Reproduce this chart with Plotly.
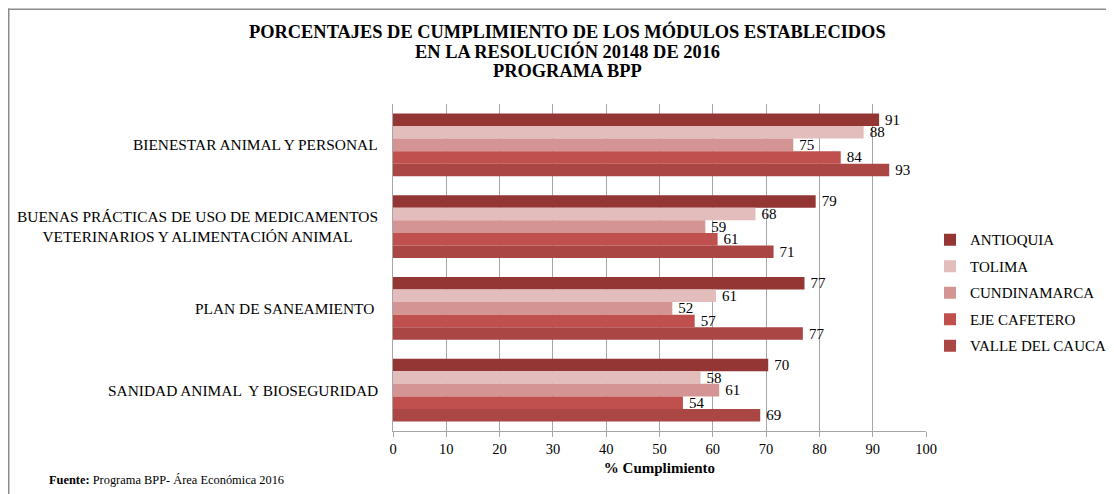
import plotly.graph_objects as go

categories = [
    "BIENESTAR ANIMAL Y PERSONAL",
    "BUENAS PRÁCTICAS DE USO DE MEDICAMENTOS<br>VETERINARIOS Y ALIMENTACIÓN ANIMAL",
    "PLAN DE SANEAMIENTO ",
    "SANIDAD ANIMAL  Y BIOSEGURIDAD",
]
series_names = ["ANTIOQUIA", "TOLIMA", "CUNDINAMARCA", "EJE CAFETERO", "VALLE DEL CAUCA"]
antioquia = [91.2, 79.3, 77.2, 70.4]
tolima = [88.3, 68.0, 60.6, 57.7]
cundinamarca = [75.1, 58.6, 52.4, 61.2]
eje_cafetero = [84.0, 60.9, 56.6, 54.4]
valle_del_cauca = [93.1, 71.4, 76.9, 68.9]
series_values = [antioquia, tolima, cundinamarca, eje_cafetero, valle_del_cauca]
colors = ["#943634", "#E3BCBC", "#D49493", "#C0504D", "#AA4644"]
x_ticks = [0, 10, 20, 30, 40, 50, 60, 70, 80, 90, 100]

FONT = "Liberation Serif, Times New Roman, serif"

# figure geometry (page is offset by 8px body margin)
W, H = 1106, 486
L, T = 385, 95.5
PW, PH = 533, 327.2
B = H - T - PH
R = W - L - PW


def px_x(x):
    return (x - L) / PW


def px_y(y):
    return 1 - (y - T) / PH


fig = go.Figure()
for name, vals, col in zip(series_names, series_values, colors):
    fig.add_trace(go.Bar(
        y=categories, x=vals, name=name, orientation="h",
        marker=dict(color=col, line=dict(width=0)),
        text=[f"\u2009{v:.0f}" for v in vals], textposition="outside",
        textfont=dict(family=FONT, size=15, color="#000"),
        constraintext="none", cliponaxis=False,
        legendgroup=name,
    ))

for c in categories:
    fig.add_annotation(
        x=-13 / PW, xref="paper", y=c, yref="y", text=c, showarrow=False,
        xanchor="right", yanchor="middle", align="center",
        font=dict(family=FONT, size=15.4, color="#000"),
    )

title_lines = [
    "PORCENTAJES DE CUMPLIMIENTO DE LOS MÓDULOS ESTABLECIDOS",
    "EN LA RESOLUCIÓN 20148 DE 2016",
    "PROGRAMA BPP",
]
for i, t in enumerate(title_lines):
    fig.add_annotation(
        x=px_x(559), xref="paper",
        y=px_y(23 + i * 19.5), yref="paper",
        text=f"<b>{t}</b>", showarrow=False, xanchor="center", yanchor="middle",
        font=dict(family=FONT, size=18.4, color="#000"),
    )

fig.add_annotation(
    x=px_x(39), xref="paper", y=px_y(472), yref="paper",
    text="<b>Fuente:</b> Programa BPP- Área Económica 2016", showarrow=False,
    xanchor="left", yanchor="middle", font=dict(family=FONT, size=12.4, color="#000"),
)

# border lines (top and left)
fig.add_shape(type="line", xref="paper", yref="paper",
              x0=px_x(0), x1=px_x(W), y0=px_y(0.75), y1=px_y(0.75),
              line=dict(color="#8c8c8c", width=1.5))
fig.add_shape(type="line", xref="paper", yref="paper",
              x0=px_x(0.75), x1=px_x(0.75), y0=px_y(0), y1=px_y(H),
              line=dict(color="#8c8c8c", width=1.5))

fig.update_layout(
    width=W, height=H,
    margin=dict(l=L, r=R, t=T, b=B, autoexpand=False),
    paper_bgcolor="white", plot_bgcolor="white",
    barmode="group", bargap=0.23, bargroupgap=0,
    font=dict(family=FONT, color="#000"),
    showlegend=True,
    legend=dict(
        x=1.0075, xanchor="left", y=px_y(284.5), yanchor="middle",
        traceorder="grouped", tracegroupgap=4,
        font=dict(family=FONT, size=15, color="#000"),
        itemwidth=30, bgcolor="rgba(0,0,0,0)",
    ),
    xaxis=dict(
        range=[0, 100], tickvals=x_ticks, ticktext=[str(t) for t in x_ticks],
        showgrid=True, gridcolor="#a6a6a6", gridwidth=1,
        showline=True, linecolor="#a6a6a6", linewidth=1,
        ticks="outside", ticklen=5, tickcolor="#a6a6a6",
        tickfont=dict(family=FONT, size=14.5, color="#000"),
        title=dict(text="<b>% Cumplimiento</b>", font=dict(family=FONT, size=15, color="#000"), standoff=6),
        zeroline=False,
    ),
    yaxis=dict(
        autorange="reversed", showticklabels=False,
        showline=True, linecolor="#a6a6a6", linewidth=1,
        ticks="", showgrid=False,
    ),
)

fig.write_html("out.html")
